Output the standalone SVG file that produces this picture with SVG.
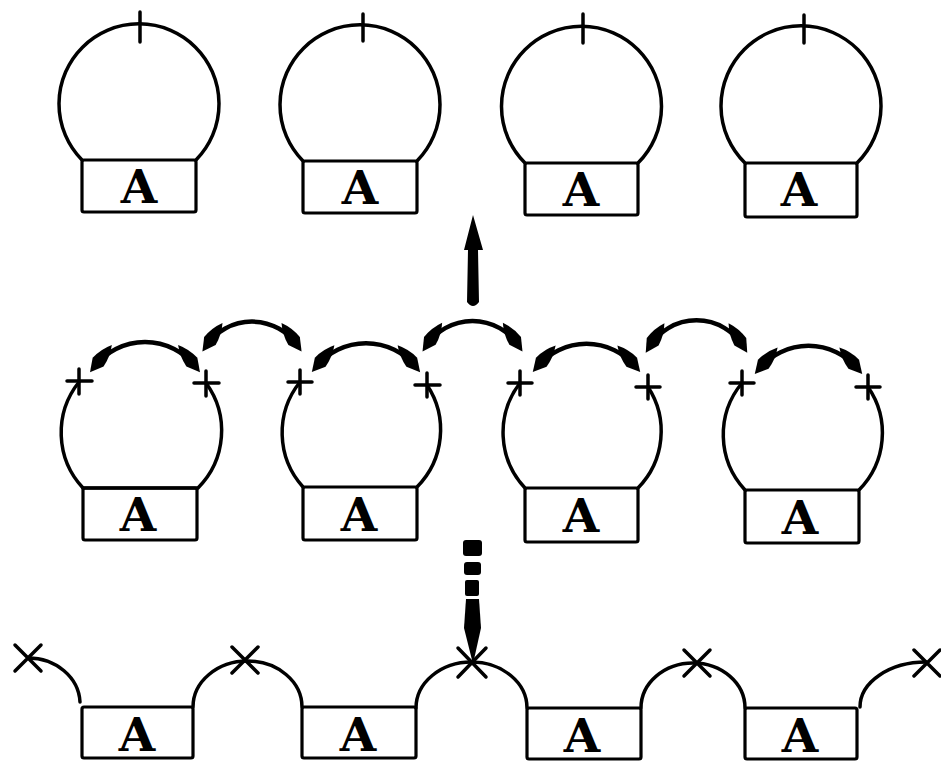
<svg xmlns="http://www.w3.org/2000/svg" width="941" height="762" viewBox="0 0 941 762">
<defs>
<style>
.ln{fill:none;stroke:#000;stroke-width:3.5;stroke-linecap:round;stroke-linejoin:round}
.bx{fill:#fff;stroke:#000;stroke-width:3.2}
.mk{fill:none;stroke:#000;stroke-width:3.5;stroke-linecap:round}
.arc{fill:none;stroke:#000;stroke-width:4.5;marker-start:url(#ah);marker-end:url(#ah)}
.lbl{font-family:"DejaVu Serif","Liberation Serif",serif;font-weight:bold;font-size:47px;text-anchor:middle;fill:#000}
.sol{fill:#000;stroke:none}
</style>
<marker id="ah" markerUnits="userSpaceOnUse" markerWidth="40" markerHeight="20" viewBox="-30 -10 40 20" refX="0" refY="0" orient="auto-start-reverse">
<path d="M8,0 L-5,-7 Q-17,-6 -27,0 Q-17,6 -5,7 Z" fill="#000"/>
</marker>
</defs>

<!-- top row -->
<g id="top-1">
<path class="ln" d="M82,160 A80,80 0 1 1 196,160"/>
<line class="mk" x1="140" y1="12" x2="140" y2="42"/>
<rect class="bx" x="82" y="160" width="114" height="52" rx="2"/>
<text class="lbl" x="139" y="203">A</text>
</g>
<g id="top-2">
<path class="ln" d="M303,161 A80,80 0 1 1 417,161"/>
<line class="mk" x1="363" y1="14" x2="363" y2="41"/>
<rect class="bx" x="303" y="161" width="114" height="52" rx="2"/>
<text class="lbl" x="360" y="204">A</text>
</g>
<g id="top-3">
<path class="ln" d="M525,163 A80,80 0 1 1 638,163"/>
<line class="mk" x1="583" y1="14" x2="583" y2="43"/>
<rect class="bx" x="525" y="163" width="113" height="52" rx="2"/>
<text class="lbl" x="581" y="206">A</text>
</g>
<g id="top-4">
<path class="ln" d="M745,163 A80,80 0 1 1 857,163"/>
<line class="mk" x1="804" y1="15" x2="804" y2="43"/>
<rect class="bx" x="745" y="163" width="112" height="54" rx="2"/>
<text class="lbl" x="799" y="206">A</text>
</g>

<!-- middle row -->
<g id="mid-1">
<path class="ln" d="M79,382 A81,81 0 0 0 83,488"/>
<path class="ln" d="M206,383 A81,81 0 0 1 198,488"/>
<path class="mk" d="M67,381 H92 M79,369 V394"/>
<path class="mk" d="M194,383 H219 M206,371 V396"/>
<rect class="bx" x="83" y="488" width="114" height="52" rx="2"/>
<line class="mk" x1="83" y1="488" x2="197" y2="488"/>
<text class="lbl" x="138" y="531">A</text>
</g>
<g id="mid-2">
<path class="ln" d="M300,382 A81,81 0 0 0 303,487"/>
<path class="ln" d="M427,385 A81,81 0 0 1 417,487"/>
<path class="mk" d="M288,382 H312 M300,370 V394"/>
<path class="mk" d="M415,385 H440 M427,373 V397"/>
<rect class="bx" x="303" y="487" width="114" height="53" rx="2"/>
<text class="lbl" x="359" y="531">A</text>
</g>
<g id="mid-3">
<path class="ln" d="M520,383 A81,81 0 0 0 525,488"/>
<path class="ln" d="M648,387 A81,81 0 0 1 638,488"/>
<path class="mk" d="M508,383 H532 M520,371 V395"/>
<path class="mk" d="M636,387 H660 M648,375 V399"/>
<rect class="bx" x="525" y="488" width="113" height="54" rx="2"/>
<text class="lbl" x="581" y="532">A</text>
</g>
<g id="mid-4">
<path class="ln" d="M742,383 A81,81 0 0 0 745,490"/>
<path class="ln" d="M868,387 A81,81 0 0 1 859,490"/>
<path class="mk" d="M730,383 H754 M742,371 V395"/>
<path class="mk" d="M856,387 H880 M868,375 V399"/>
<rect class="bx" x="745" y="490" width="114" height="53" rx="2"/>
<text class="lbl" x="800" y="534">A</text>
</g>

<!-- bottom row -->
<g id="bot-1">
<rect class="bx" x="82" y="707" width="111" height="51" rx="2"/>
<text class="lbl" x="137" y="751">A</text>
</g>
<g id="bot-2">
<rect class="bx" x="302" y="707" width="114" height="51" rx="2"/>
<text class="lbl" x="358" y="751">A</text>
</g>
<g id="bot-3">
<rect class="bx" x="527" y="708" width="114" height="51" rx="2"/>
<text class="lbl" x="582" y="752">A</text>
</g>
<g id="bot-4">
<rect class="bx" x="745" y="708" width="112" height="51" rx="2"/>
<text class="lbl" x="800" y="752">A</text>
</g>
<g id="bot-links">
<path class="ln" d="M28,658 A52,46 0 0 1 80,702"/>
<path class="ln" d="M193,707 A54.5,46 0 0 1 302,707"/>
<path class="ln" d="M416,708 A55.5,46 0 0 1 527,708"/>
<path class="ln" d="M641,708 A52,45 0 0 1 745,708"/>
<path class="ln" d="M860,707 A66,45 0 0 1 926,662"/>
<path class="mk" d="M15,645 L41,671 M41,645 L15,671"/>
<path class="mk" d="M232,647 L258,673 M258,647 L232,673"/>
<path class="mk" d="M458,648 L486,677 M486,648 L458,677"/>
<path class="mk" d="M684,650 L710,676 M710,650 L684,676"/>
<path class="mk" d="M914,650 L940,676 M940,650 L914,676"/>
</g>

<!-- connectors -->
<g id="connectors">
<path class="arc" d="M95,366 A64,64 0 0 1 195,366"/>
<path class="arc" d="M207,345 A55,55 0 0 1 297,345"/>
<path class="arc" d="M317,366 A64,64 0 0 1 415,366"/>
<path class="arc" d="M427,345 A55,55 0 0 1 518,345"/>
<path class="arc" d="M538,366 A64,64 0 0 1 635,366"/>
<path class="arc" d="M650,346 A55,55 0 0 1 743,346"/>
<path class="arc" d="M760,368 A64,64 0 0 1 857,368"/>
<path class="sol" d="M467,302 Q473,310 479,302 L478,250 L483,250 L473,215 L464,250 L468,250 Z"/>
<rect class="sol" x="463" y="540" width="19" height="16" rx="3"/>
<rect class="sol" x="464" y="562" width="17" height="13" rx="3"/>
<rect class="sol" x="465" y="580" width="14" height="16" rx="2"/>
<path class="sol" d="M466,599 L479,599 L481,628 L473,664 L464,628 Z"/>
</g>
</svg>
